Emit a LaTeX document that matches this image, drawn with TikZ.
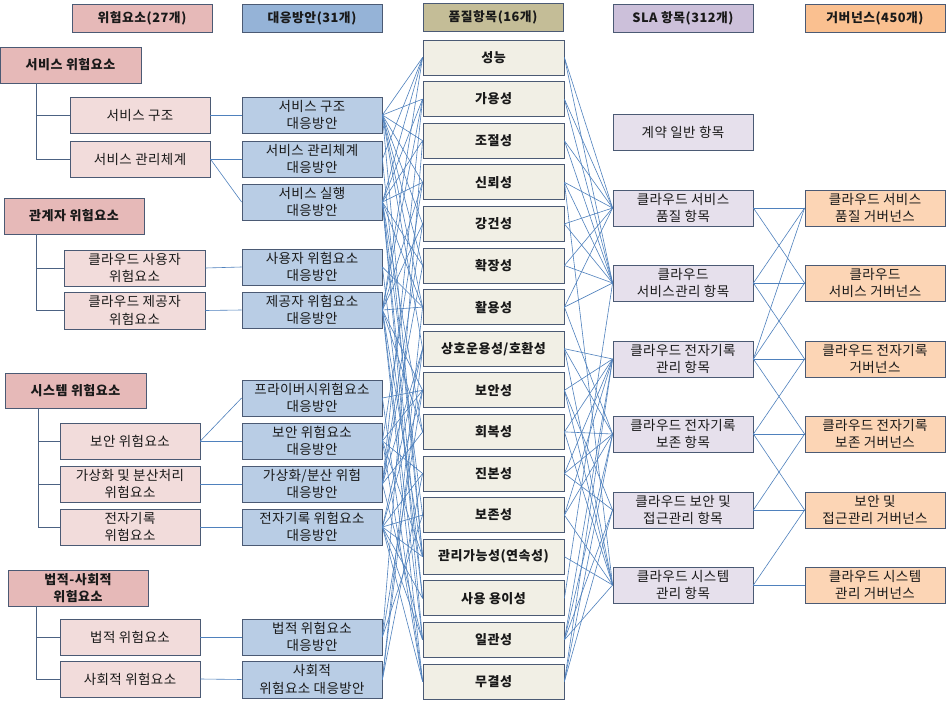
\documentclass[tikz,border=0pt]{standalone}
\usepackage{fontspec}
\newfontfamily\kr{Noto Sans CJK KR}[LetterSpace=4]
\newfontfamily\krr{Noto Sans CJK KR}[LetterSpace=3]
\definecolor{bord}{HTML}{4B5A74}
\definecolor{lnk}{HTML}{4F81BD}
\definecolor{hpink}{HTML}{E6B9B8}
\definecolor{lpink}{HTML}{F2DCDB}
\definecolor{hblue}{HTML}{95B3D7}
\definecolor{lblue}{HTML}{B9CDE5}
\definecolor{htan}{HTML}{C4BD97}
\definecolor{ltan}{HTML}{F1EFE5}
\definecolor{hlav}{HTML}{CCC0DA}
\definecolor{llav}{HTML}{E6E0EC}
\definecolor{horg}{HTML}{FAC090}
\definecolor{lorg}{HTML}{FCD5B5}
\tikzset{
  box/.style={draw=bord, line width=0.8pt, minimum width=140pt, minimum height=36pt,
    inner sep=0pt, align=center, font=\krr\fontsize{13.5}{17.5}\selectfont, text=black!90},
  hdr/.style={box, minimum height=28pt, font=\kr\bfseries\fontsize{12.8}{17}\selectfont},
  bbox/.style={box, font=\kr\bfseries\fontsize{13}{17.5}\selectfont},
  link/.style={draw=lnk, line width=0.6pt},
  tree/.style={draw=bord!80!lnk, line width=0.8pt}
}
\begin{document}
\begin{tikzpicture}[x=1pt,y=-1pt]
\useasboundingbox[fill=white] (0,0) rectangle (946,704);
% headers
\node[hdr, fill=hpink] (h1) at (142,18) {위험요소(27개)};
\node[hdr, fill=hblue] (h2) at (312,18) {대응방안(31개)};
\node[hdr, fill=htan] (h3) at (493,17) {품질항목(16개)};
\node[hdr, fill=hlav] (h4) at (683,18) {SLA 항목(312개)};
\node[hdr, fill=horg] (h5) at (875,18) {거버넌스(450개)};
% categories
\node[bbox, fill=hpink, minimum width=141pt] (k1) at (70.5,65) {서비스 위험요소};
\node[bbox, fill=hpink] (k2) at (74,216) {관계자 위험요소};
\node[bbox, fill=hpink, minimum width=141pt, minimum height=35pt] (k3) at (75.5,390.5) {시스템 위험요소};
\node[bbox, fill=hpink] (k4) at (78,588) {법적-사회적\\위험요소};
% risk items
\node[box, fill=lpink] (r1) at (140,115) {서비스 구조};
\node[box, fill=lpink] (r2) at (140,159) {서비스 관리체계};
\node[box, fill=lpink, minimum width=141pt] (r3) at (134.5,268) {클라우드 사용자\\위험요소};
\node[box, fill=lpink, minimum width=141pt, minimum height=37pt] (r4) at (134.5,310.5) {클라우드 제공자\\위험요소};
\node[box, fill=lpink] (r5) at (130,441) {보안 위험요소};
\node[box, fill=lpink] (r6) at (130,484) {가상화 및 분산처리\\위험요소};
\node[box, fill=lpink] (r7) at (130,527) {전자기록\\위험요소};
\node[box, fill=lpink] (r8) at (130,637) {법적 위험요소};
\node[box, fill=lpink] (r9) at (130,679) {사회적 위험요소};
% countermeasures
\node[box, fill=lblue] (a1) at (312,115) {서비스 구조\\대응방안};
\node[box, fill=lblue] (a2) at (312,159) {서비스 관리체계\\대응방안};
\node[box, fill=lblue] (a3) at (312,202) {서비스 실행\\대응방안};
\node[box, fill=lblue] (a4) at (312,267) {사용자 위험요소\\대응방안};
\node[box, fill=lblue] (a5) at (312,310) {제공자 위험요소\\대응방안};
\node[box, fill=lblue] (a6) at (312,398) {프라이버시위험요소\\대응방안};
\node[box, fill=lblue] (a7) at (312,441) {보안 위험요소\\대응방안};
\node[box, fill=lblue] (a8) at (312,484) {가상화/분산 위험\\대응방안};
\node[box, fill=lblue] (a9) at (312,527) {전자기록 위험요소\\대응방안};
\node[box, fill=lblue] (a10) at (312,637) {법적 위험요소\\대응방안};
\node[box, fill=lblue, minimum height=37pt] (a11) at (312,679.5) {사회적\\위험요소 대응방안};
% quality items
\foreach \i/\t in {1/성능,2/가용성,3/조절성,4/신뢰성,5/강건성,6/확장성,7/활용성,8/{상호운용성/호환성},
  9/보안성,10/회복성,11/진본성,12/보존성,13/관리가능성(연속성),14/사용 용이성,15/일관성,16/무결성}
  \node[bbox, fill=ltan, minimum width=141pt, minimum height=35pt] (q\i) at (493.5,{57.5+41.6*(\i-1)}) {\t};
% SLA items
\node[box, fill=llav] (s1) at (683,132) {계약 일반 항목};
\node[box, fill=llav] (s2) at (683,208) {클라우드 서비스\\품질 항목};
\node[box, fill=llav] (s3) at (683,283) {클라우드\\서비스관리 항목};
\node[box, fill=llav] (s4) at (683,359) {클라우드 전자기록\\관리 항목};
\node[box, fill=llav] (s5) at (683,434) {클라우드 전자기록\\보존 항목};
\node[box, fill=llav] (s6) at (683,510) {클라우드 보안 및\\접근관리 항목};
\node[box, fill=llav] (s7) at (683,585) {클라우드 시스템\\관리 항목};
% governance
\node[box, fill=lorg] (g1) at (875,208) {클라우드 서비스\\품질 거버넌스};
\node[box, fill=lorg] (g2) at (875,283) {클라우드\\서비스 거버넌스};
\node[box, fill=lorg] (g3) at (875,359) {클라우드 전자기록\\거버넌스};
\node[box, fill=lorg] (g4) at (875,434) {클라우드 전자기록\\보존 거버넌스};
\node[box, fill=lorg] (g5) at (875,510) {보안 및\\접근관리 거버넌스};
\node[box, fill=lorg] (g6) at (875,585) {클라우드 시스템\\관리 거버넌스};
% trees
\coordinate (t1) at (36,83);
\coordinate (t2) at (36,234);
\coordinate (t3) at (38,408);
\coordinate (t4) at (36,606);
\draw[tree] (t1) |- (r1.west);
\draw[tree] (t1) |- (r2.west);
\draw[tree] (t2) |- (r3.west);
\draw[tree] (t2) |- (r4.west);
\draw[tree] (t3) |- (r5.west);
\draw[tree] (t3) |- (r6.west);
\draw[tree] (t3) |- (r7.west);
\draw[tree] (t4) |- (r8.west);
\draw[tree] (t4) |- (r9.west);
% risk -> countermeasure
\foreach \a/\b in {r1/a1,r2/a2,r2/a3,r3/a4,r4/a5,r5/a6,r5/a7,r6/a8,r7/a9,r8/a10,r9/a11}
  \draw[link] (\a.east) -- (\b.west);
% countermeasure -> quality
\foreach \a/\b in {a1/q1,a1/q2,a1/q3,a1/q4,a1/q5,a1/q6,a1/q7,a1/q8,a1/q13,
  a2/q1,a2/q13,
  a3/q1,a3/q2,a3/q3,a3/q4,a3/q6,a3/q7,a3/q10,a3/q12,a3/q14,a3/q15,
  a4/q7,a4/q14,
  a5/q1,a5/q2,a5/q4,a5/q5,a5/q7,a5/q9,a5/q10,a5/q13,a5/q15,a5/q16,
  a6/q9,a6/q16,
  a7/q4,a7/q9,a7/q11,a7/q13,a7/q16,
  a8/q2,a8/q5,a8/q6,a8/q8,a8/q10,a8/q15,
  a9/q8,a9/q9,a9/q11,a9/q12,a9/q13,a9/q14,a9/q15,a9/q16,
  a10/q3,a10/q9,a10/q12,
  a11/q7,a11/q8,a11/q11}
  \draw[link] (\a.east) -- (\b.west);
% quality -> SLA
\foreach \a/\b in {q1/s2,q1/s3,q2/s2,q2/s3,q3/s2,q3/s3,q4/s2,q4/s3,q4/s7,
  q5/s2,q5/s3,q6/s2,q6/s3,q7/s2,q7/s3,q7/s5,
  q8/s4,q8/s5,q8/s7,q9/s4,q9/s6,q9/s7,q10/s4,q10/s5,q10/s7,
  q11/s4,q11/s5,q11/s6,q12/s4,q12/s5,q12/s7,q13/s7,q14/s3,
  q15/s4,q15/s5,q15/s6,q15/s7,q16/s4,q16/s5,q16/s6}
  \draw[link] (\a.east) -- (\b.west);
% SLA -> governance
\foreach \a/\b in {s2/g1,s2/g2,s3/g1,s3/g2,s3/g3,s4/g1,s4/g2,s4/g3,s4/g4,
  s5/g3,s5/g4,s5/g5,s6/g4,s6/g5,s7/g5,s7/g6}
  \draw[link] (\a.east) -- (\b.west);
\end{tikzpicture}
\end{document}
